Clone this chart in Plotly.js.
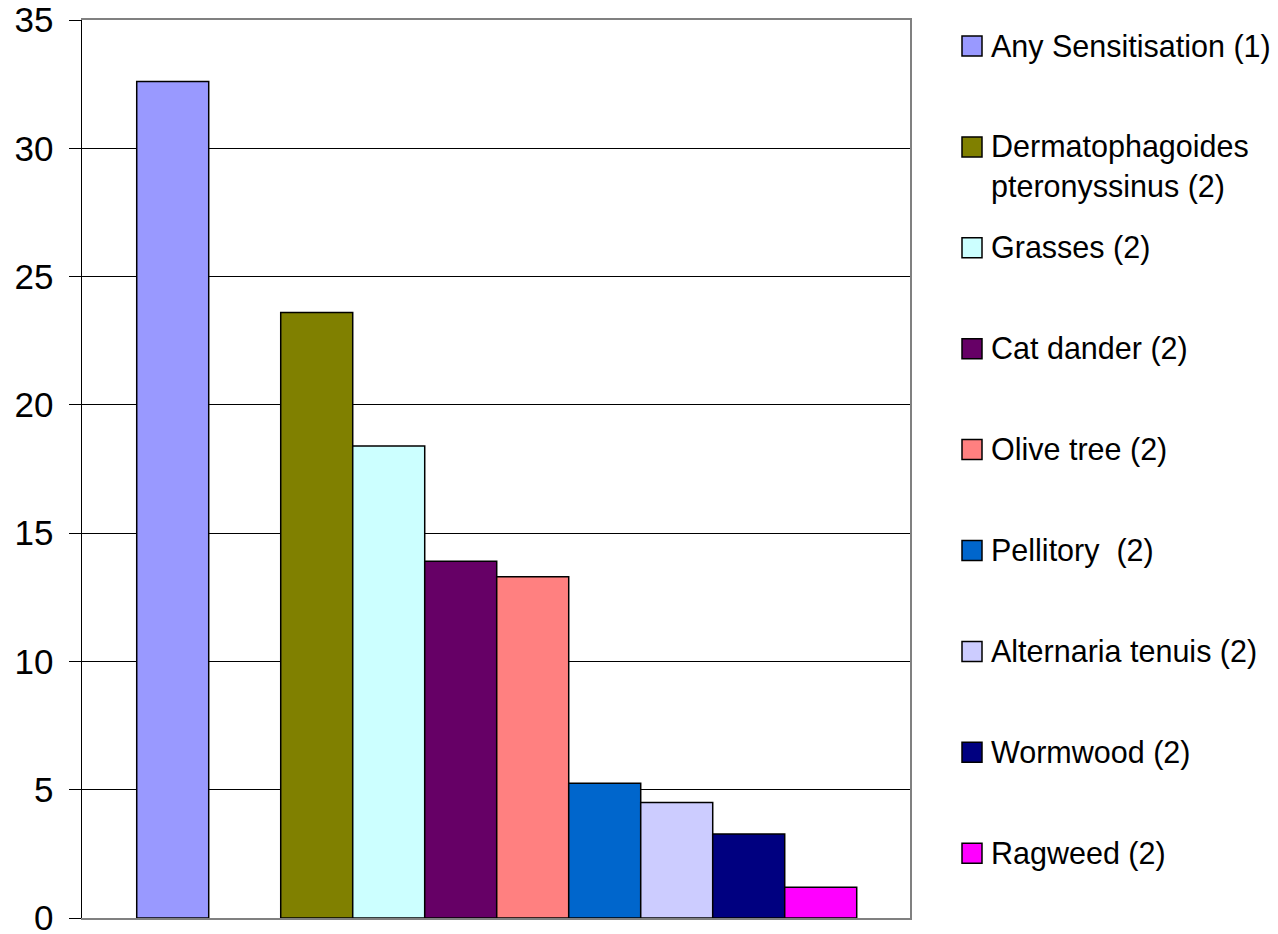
<!DOCTYPE html>
<html>
<head>
<meta charset="utf-8">
<script src="https://cdn.plot.ly/plotly-3.0.1.min.js"></script>
<style>
  html, body { margin: 0; padding: 0; background: #ffffff; }
  #chart { width: 1278px; height: 934px; }
</style>
</head>
<body>
<div id="chart"></div>
<script>
// Prevalence of sensitisation by allergen
const seriesNames = [
  'Any Sensitisation (1)',
  'Dermatophagoides<br>pteronyssinus (2)',
  'Grasses (2)',
  'Cat dander (2)',
  'Olive tree (2)',
  'Pellitory\u00a0 (2)',
  'Alternaria tenuis (2)',
  'Wormwood (2)',
  'Ragweed (2)'
];
const seriesValues = [32.6, 23.6, 18.4, 13.9, 13.3, 5.25, 4.5, 3.27, 1.2];
const seriesColors = [
  '#9999FF', '#808000', '#CCFFFF', '#660066', '#FF8080',
  '#0066CC', '#CCCCFF', '#000080', '#FF00FF'
];
const yTicks = [0, 5, 10, 15, 20, 25, 30, 35];

const FONT = 'Arial, "Liberation Sans", sans-serif';

// plot area in pixels
const W = 1278, H = 934;
const plotL = 82, plotR = 910, plotT = 20, plotB = 918;
const plotW = plotR - plotL, plotH = plotB - plotT;

// the first bar stands alone, the allergen bars follow after one empty slot
const traces = seriesValues.map((v, i) => ({
  type: 'bar',
  x: [i === 0 ? 0 : i + 1],
  y: [v],
  width: 1,
  name: seriesNames[i],
  marker: { color: seriesColors[i], line: { color: '#000000', width: 1.5 } },
  showlegend: false,
  hoverinfo: 'name+y'
}));

// right-hand border of the plot area
traces.push({
  type: 'scatter', x: [], y: [], yaxis: 'y2', showlegend: false, hoverinfo: 'skip'
});

// legend: swatch + label per series, evenly spaced down the right side
const legTop = 46, legStep = 100.9, lineH = 39;
const shapes = [], annotations = [];
const px2x = p => (p - plotL) / plotW;
const px2y = p => (plotB - p) / plotH;
seriesNames.forEach((name, i) => {
  const cy = legTop + i * legStep;
  shapes.push({
    type: 'rect', xref: 'paper', yref: 'paper',
    x0: px2x(962), x1: px2x(982), y0: px2y(cy + 10), y1: px2y(cy - 10),
    fillcolor: seriesColors[i], line: { color: '#000000', width: 1.5 }
  });
  const nLines = name.split('<br>').length;
  annotations.push({
    xref: 'paper', yref: 'paper',
    x: px2x(989), y: px2y(cy + (nLines - 1) * lineH / 2),
    xanchor: 'left', yanchor: 'middle', align: 'left',
    text: name, showarrow: false,
    font: { family: FONT, size: 30.5, color: '#000000' }
  });
});

const layout = {
  width: W, height: H,
  margin: { l: plotL, r: W - plotR, t: plotT, b: H - plotB, pad: 0 },
  paper_bgcolor: '#ffffff',
  plot_bgcolor: '#ffffff',
  showlegend: false,
  barmode: 'overlay',
  font: { family: FONT, color: '#000000' },
  xaxis: {
    range: [-1.26, 10.24],
    showticklabels: false, ticks: '', showgrid: false, zeroline: false,
    showline: true, mirror: true, linecolor: '#808080', linewidth: 2,
    fixedrange: true
  },
  yaxis: {
    range: [0, 35],
    tickvals: yTicks,
    ticktext: yTicks.map(String),
    ticks: 'outside', ticklen: 12, tickwidth: 1, tickcolor: '#000000',
    ticklabelstandoff: 8,
    ticklabeloverflow: 'allow',
    tickfont: { family: FONT, size: 35, color: '#000000' },
    showgrid: true, gridcolor: '#000000', gridwidth: 1,
    zeroline: false,
    showline: true, linecolor: '#000000', linewidth: 1.5,
    fixedrange: true
  },
  yaxis2: {
    overlaying: 'y', side: 'right', range: [0, 35],
    showticklabels: false, ticks: '', showgrid: false, zeroline: false,
    showline: true, linecolor: '#808080', linewidth: 2,
    fixedrange: true
  },
  shapes: shapes,
  annotations: annotations
};

Plotly.newPlot('chart', traces, layout, { displayModeBar: false, staticPlot: true });
</script>
</body>
</html>
